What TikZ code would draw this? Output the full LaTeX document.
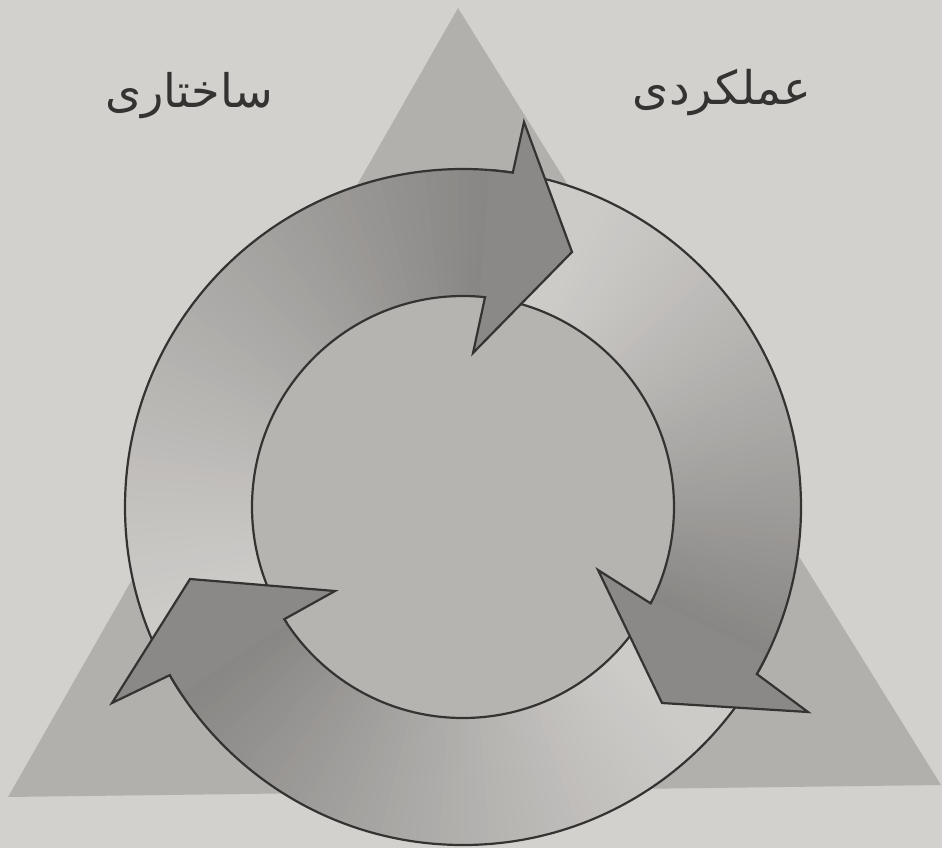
\documentclass[tikz,border=0pt]{standalone}
\usepackage{graphicx}
\usepackage{fontspec}
\newfontfamily\arabicfont[Script=Arabic]{DejaVu Sans}
\TeXXeTstate=1
\definecolor{bgcol}{HTML}{D3D1CE}
\definecolor{tricol}{HTML}{B2B0AD}
\definecolor{ringcol}{HTML}{CDCBC8}
\definecolor{innercol}{HTML}{B6B4B1}
\definecolor{darkcol}{HTML}{888684}
\definecolor{headcol}{HTML}{8B8987}
\definecolor{linecol}{HTML}{353331}
\tikzset{
  outline/.style={draw=linecol, line width=2.2pt, line join=miter},
  headfill/.style={fill=headcol},
  label/.style={text=linecol, inner sep=0pt}
}
\begin{document}
\begin{tikzpicture}[x=1pt,y=1pt]
\useasboundingbox (0,0) rectangle (942,-848);
\fill[bgcol] (0,0) rectangle (942,-848);
% triangle
\fill[tricol] (458,-8) -- (8,-797) -- (941,-785) -- cycle;
\begin{scope}[shift={(463,-507)}]
  % ring and inner disc
  \fill[ringcol] (0,0) circle[radius=338pt];
  \fill[innercol] (0,0) circle[radius=211pt];
  % gradient shafts: tail angle / end angle
  \foreach \T/\E in {200/85.0, 66.85/-26.5, 315.43/213.0}{
    \foreach \i in {0,...,59}{
      \pgfmathsetmacro{\a}{\T-(\T-\E)*\i/60}
      \pgfmathsetmacro{\b}{\T-(\T-\E)*(\i+1)/60-0.5}
      \pgfmathsetmacro{\p}{100*((\i+0.5)/60)^1.15}
      \fill[darkcol!\p!ringcol] (\a:338pt) arc[start angle=\a, end angle=\b, radius=338pt]
        -- (\b:211pt) arc[start angle=\b, end angle=\a, radius=211pt] -- cycle;
    }
  }
  % ring outlines
  \draw[outline] (0,0) circle[radius=338pt];
  \draw[outline] (0,0) circle[radius=211pt];
  % top head
  \fill[headfill] (85.5:338pt) arc[start angle=85.5, end angle=81.53, radius=338pt]
    -- (61,385) -- (109,255) -- (10,154) -- (84.0:211pt)
    arc[start angle=84.0, end angle=85.5, radius=211pt] -- cycle;
  \draw[outline] (85.5:338pt) arc[start angle=85.5, end angle=81.53, radius=338pt]
    -- (61,385) -- (109,255) -- (10,154) -- (84.0:211pt)
    arc[start angle=84.0, end angle=85.5, radius=211pt];
  % right head
  \fill[headfill] (-26:338pt) arc[start angle=-26, end angle=-29.62, radius=338pt]
    -- (345,-205) -- (199,-196) -- (135,-63) -- (-27.18:211pt)
    arc[start angle=-27.18, end angle=-26, radius=211pt] -- cycle;
  \draw[outline] (-26:338pt) arc[start angle=-26, end angle=-29.62, radius=338pt]
    -- (345,-205) -- (199,-196) -- (135,-63) -- (-27.18:211pt)
    arc[start angle=-27.18, end angle=-26, radius=211pt];
  % left head
  \fill[headfill] (213.5:338pt) arc[start angle=213.5, end angle=209.83, radius=338pt]
    -- (-351,-196) -- (-273,-72) -- (-128,-84) -- (212.12:211pt)
    arc[start angle=212.12, end angle=213.5, radius=211pt] -- cycle;
  \draw[outline] (213.5:338pt) arc[start angle=213.5, end angle=209.83, radius=338pt]
    -- (-351,-196) -- (-273,-72) -- (-128,-84) -- (212.12:211pt)
    arc[start angle=212.12, end angle=213.5, radius=211pt];
\end{scope}
% labels
\node[label] (sakhtari) at (189,-96) {\resizebox{168pt}{!}{\arabicfont\beginR ساختاری\endR}};
\node[label] (amalkardi) at (722,-93) {\resizebox{178pt}{!}{\arabicfont\beginR عملکردی\endR}};
\end{tikzpicture}
\end{document}
